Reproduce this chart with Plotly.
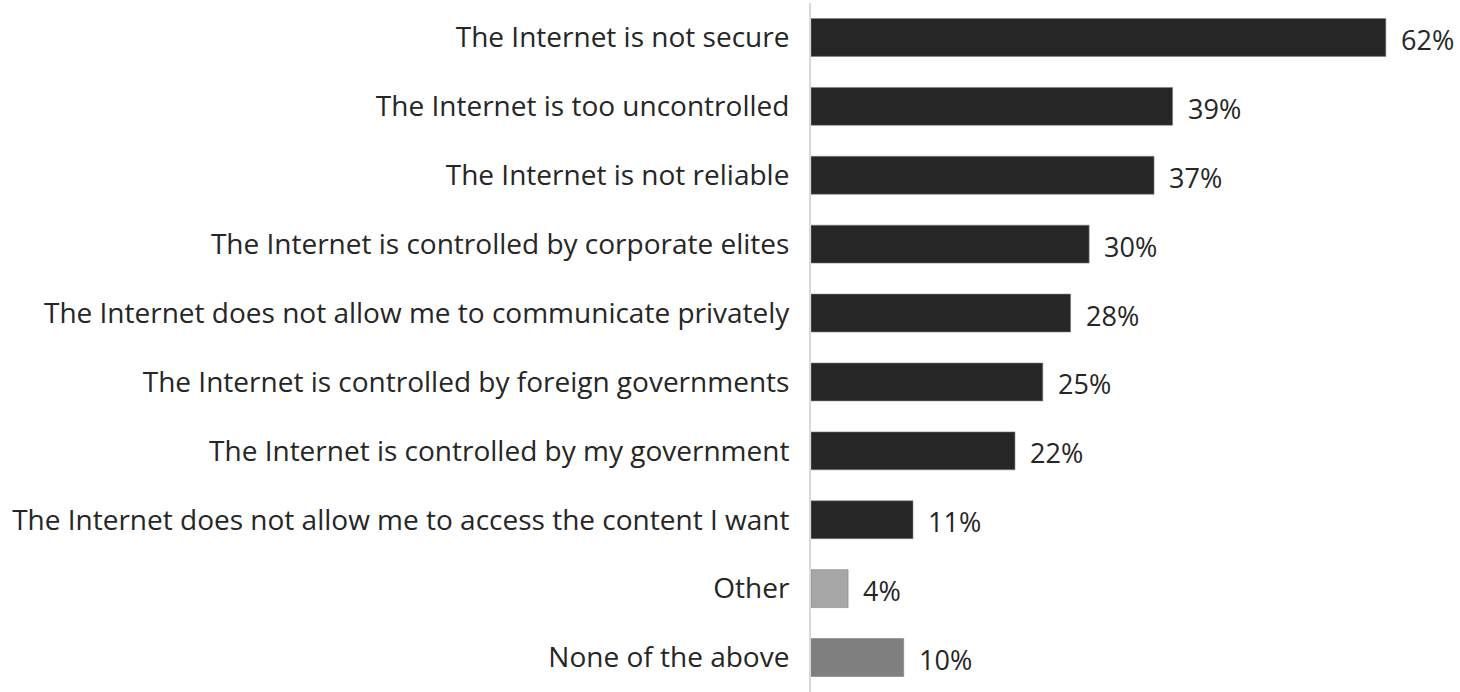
import plotly.graph_objects as go

categories = [
    "The Internet is not secure",
    "The Internet is too uncontrolled",
    "The Internet is not reliable",
    "The Internet is controlled by corporate elites",
    "The Internet does not allow me to communicate privately",
    "The Internet is controlled by foreign governments",
    "The Internet is controlled by my government",
    "The Internet does not allow me to access the content I want",
    "Other",
    "None of the above",
]
values = [62, 39, 37, 30, 28, 25, 22, 11, 4, 10]
bar_colors = ["#262626"] * 8 + ["#a6a6a6", "#7f7f7f"]

font_family = "Open Sans"
text_color = "#262626"

fig = go.Figure()
fig.add_trace(go.Bar(
    x=values,
    y=categories,
    orientation="h",
    marker=dict(color=bar_colors, line=dict(color="#7f7f7f", width=0.6)),
    hoverinfo="x+y",
))

for c, v in zip(categories, values):
    fig.add_annotation(
        x=v, y=c, text=f"{v}%", showarrow=False,
        xanchor="left", xshift=13, yshift=-2,
        font=dict(family=font_family, size=27, color=text_color),
    )

fig.update_layout(
    width=1460, height=692,
    margin=dict(l=811, r=0, t=3, b=0),
    paper_bgcolor="white", plot_bgcolor="white",
    bargap=0.45,
    showlegend=False,
    font=dict(family=font_family, size=28, color=text_color),
    xaxis=dict(range=[0, 70], visible=False, fixedrange=True),
    yaxis=dict(
        autorange="reversed",
        showline=True, linecolor="#d9d9d9", linewidth=2,
        ticks="", ticklabelstandoff=14,
        tickfont=dict(family=font_family, size=28, color=text_color),
        showgrid=False,
    ),
)

fig.write_html("out.html", config={"displayModeBar": False},
               post_script="document.body.style.margin='0';")
